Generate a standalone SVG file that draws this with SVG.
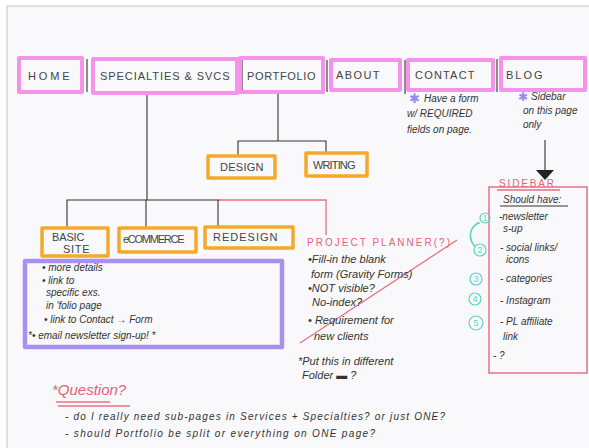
<svg xmlns="http://www.w3.org/2000/svg" width="589" height="448" viewBox="0 0 589 448">
<style>
.pink{fill:none;stroke:#f592ea;stroke-width:4;stroke-linejoin:round}
.orange{fill:none;stroke:#f6a82a;stroke-width:3.5;stroke-linejoin:round}
.purple{fill:none;stroke:#a88ff2;stroke-width:4.5;stroke-linejoin:round}
.red{fill:none;stroke:#ea6f86;stroke-width:1.3}
.ln{fill:none;stroke:#333;stroke-width:1.1}
.lbl{font-family:"Liberation Sans",Arial,sans-serif;font-size:11px;fill:#444;letter-spacing:0.5px}
.hw{font-family:"Liberation Sans",Arial,sans-serif;font-size:10px;fill:#333;font-style:italic}
.pp{font-size:11px}
.rt{font-family:"Liberation Sans",Arial,sans-serif;fill:#e8607c}
.teal{fill:none;stroke:#5fd3c6;stroke-width:1.2}
.tn{font-family:"Liberation Sans",Arial,sans-serif;font-size:9px;fill:#5fd3c6;text-anchor:middle}
</style>
<rect x="0" y="0" width="589" height="448" fill="#ffffff"/>
<rect x="7" y="6" width="600" height="460" fill="#f9f9fb" stroke="#c4c4c8" stroke-width="1"/>

<g id="connectors">
  <line class="ln" x1="87" y1="59" x2="87" y2="92"/>
  <line class="ln" x1="242" y1="59" x2="242" y2="92"/>
  <line class="ln" x1="327" y1="60" x2="327" y2="92"/>
  <line class="ln" x1="405" y1="60" x2="405" y2="94"/>
  <line class="ln" x1="497" y1="59" x2="497" y2="92"/>
  <polyline class="ln" points="147,94 147,200"/>
  <polyline class="ln" points="67,228 67,200 220,200"/>
  <line class="ln" x1="146" y1="200" x2="146" y2="228"/>
  <line class="ln" x1="218" y1="200" x2="218" y2="227"/>
  <polyline class="red" points="220,200 326,200 326,235"/>
  <polyline class="ln" points="278,93 278,141"/>
  <polyline class="ln" points="238,157 238,141 326,141 326,152"/>
  <line class="red" x1="300" y1="343" x2="457" y2="240"/>
  <line class="ln" x1="545" y1="140" x2="545" y2="170"/>
  <polygon points="536,170 554,170 545,180" fill="#222"/>
</g>

<g id="home"><rect class="pink" x="19" y="58" width="63" height="34"/><text class="lbl" x="28" y="80" textLength="42">HOME</text></g>
<g id="specialties"><rect class="pink" x="93" y="59" width="144" height="34"/><text class="lbl" x="100" y="80" textLength="130">SPECIALTIES &amp; SVCS</text></g>
<g id="portfolio"><rect class="pink" x="240" y="58" width="83" height="34"/><text class="lbl" x="247" y="80" textLength="69">PORTFOLIO</text></g>
<g id="about"><rect class="pink" x="331" y="60" width="69" height="30"/><text class="lbl" x="336" y="79" textLength="44">ABOUT</text></g>
<g id="contact"><rect class="pink" x="408" y="60" width="85" height="30"/><text class="lbl" x="415" y="79" textLength="60">CONTACT</text></g>
<g id="blog"><rect class="pink" x="501" y="58" width="84" height="32"/><text class="lbl" x="506" y="79" textLength="37">BLOG</text></g>

<g id="design"><rect class="orange" x="208" y="156" width="67" height="22"/><text class="lbl" x="220" y="171" textLength="44">DESIGN</text></g>
<g id="writing"><rect class="orange" x="306" y="153" width="61" height="23"/><text class="lbl" x="313" y="169" textLength="43">WRITING</text></g>

<g id="basic-site"><rect class="orange" x="42" y="228" width="66" height="28"/><text class="lbl" font-size="10" x="52" y="241" textLength="33">BASIC</text><text class="lbl" font-size="10" x="63" y="253" textLength="27">SITE</text></g>
<g id="ecommerce"><rect class="orange" x="119" y="228" width="77" height="24"/><text class="lbl" font-size="10" x="123" y="243" textLength="62">eCOMMERCE</text></g>
<g id="redesign"><rect class="orange" x="205" y="227" width="88" height="21"/><text class="lbl" font-size="10" x="213" y="241" textLength="65">REDESIGN</text></g>

<g id="basic-details">
  <rect class="purple" x="25" y="261" width="257" height="86"/>
  <text class="hw" x="42" y="271">• more details</text>
  <text class="hw" x="42" y="284">• link to</text>
  <text class="hw" x="46" y="296">specific exs.</text>
  <text class="hw" x="46" y="309">in 'folio page</text>
  <text class="hw" x="44" y="323">• link to Contact → Form</text>
  <text class="hw" x="28" y="339">*• email newsletter sign-up! *</text>
</g>

<g id="project-planner">
  <text class="rt" font-size="10" x="307" y="246" textLength="143">PROJECT PLANNER(?)</text>
  <text class="hw pp" x="308" y="263">•Fill-in the blank</text>
  <text class="hw pp" x="311" y="278">form (Gravity Forms)</text>
  <text class="hw pp" x="308" y="292">•NOT visible?</text>
  <text class="hw pp" x="312" y="306">No-index?</text>
  <text class="hw pp" x="308" y="324">• Requirement for</text>
  <text class="hw pp" x="314" y="340">new clients</text>
  <text class="hw pp" x="298" y="365">*Put this in different</text>
  <text class="hw pp" x="302" y="379">Folder ▬ ?</text>
</g>

<g id="contact-note">
  <text x="409" y="103" font-family="Liberation Sans,sans-serif" font-size="13" fill="#9a86f0">✱</text>
  <text class="hw" x="424" y="102">Have a form</text>
  <text class="hw" x="407" y="117">w/ REQUIRED</text>
  <text class="hw" x="407" y="133">fields on page.</text>
</g>
<g id="blog-note">
  <text x="518" y="101" font-family="Liberation Sans,sans-serif" font-size="12" fill="#9a86f0">✱</text>
  <text class="hw" x="531" y="100">Sidebar</text>
  <text class="hw" x="523" y="114">on this page</text>
  <text class="hw" x="523" y="128">only</text>
</g>

<g id="sidebar">
  <rect x="489" y="187" width="98" height="186" fill="none" stroke="#ea6f86" stroke-width="1.5"/>
  <text class="rt" font-size="10" x="499" y="187" textLength="55">SIDEBAR</text>
  <line class="red" x1="497" y1="190" x2="560" y2="190"/>
  <text class="hw" x="503" y="203">Should have:</text>
  <line class="ln" x1="500" y1="206" x2="568" y2="206"/>
  <text class="hw" x="499" y="220">-newsletter</text>
  <text class="hw" x="503" y="232">s-up</text>
  <text class="hw" x="500" y="251">- social links/</text>
  <text class="hw" x="506" y="263">icons</text>
  <text class="hw" x="500" y="282">- categories</text>
  <text class="hw" x="500" y="304">- Instagram</text>
  <text class="hw" x="500" y="325">- PL affiliate</text>
  <text class="hw" x="503" y="340">link</text>
  <text class="hw" x="493" y="359">- ?</text>
  <circle class="teal" cx="485" cy="218" r="5"/><text class="tn" x="485" y="221">1</text>
  <circle class="teal" cx="480" cy="250" r="6"/><text class="tn" x="480" y="253">2</text>
  <circle class="teal" cx="476" cy="279" r="6"/><text class="tn" x="476" y="282">3</text>
  <circle class="teal" cx="475" cy="299" r="6"/><text class="tn" x="475" y="302">4</text>
  <circle class="teal" cx="476" cy="323" r="7"/><text class="tn" x="476" y="326">5</text>
  <path class="teal" d="M479,222 C468,228 468,240 475,246"/>
  <path class="teal" d="M474,246 C468,236 470,226 480,223"/>
</g>

<g id="question">
  <text class="rt" font-size="15" font-style="italic" x="52" y="395">*Question?</text>
  <line class="red" x1="56" y1="402" x2="110" y2="402" stroke-width="1.6"/>
  <line class="red" x1="58" y1="406" x2="130" y2="406" stroke-width="1"/>
  <text class="hw" x="65" y="420" font-size="11" textLength="380">- do I really need sub-pages in Services + Specialties? or just ONE?</text>
  <text class="hw" x="65" y="437" font-size="11" textLength="310">- should Portfolio be split or everything on ONE page?</text>
</g>
</svg>
